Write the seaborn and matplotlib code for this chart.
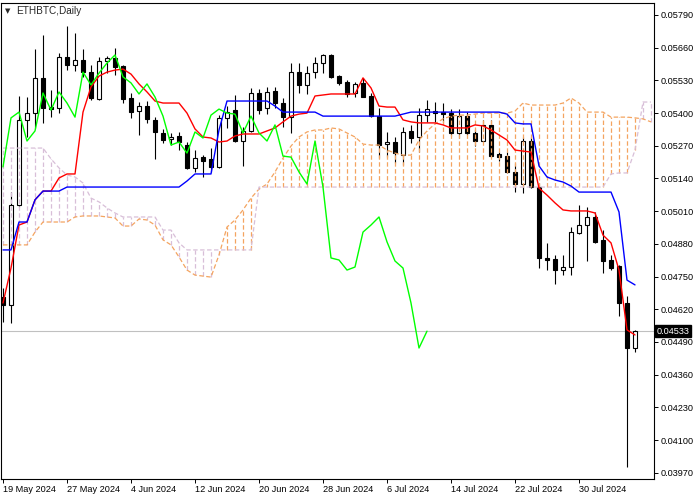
import numpy as np
import pandas as pd
import matplotlib
matplotlib.use("Agg")
import matplotlib.pyplot as plt
import matplotlib.transforms as mtransforms
import seaborn as sns

# ---- data (one value per daily bar) ----
symbol_title = "ETHBTC,Daily"
date_ticks = [0, 8, 16, 24, 32, 40, 48, 56, 64, 72]
date_labels = ["19 May 2024", "27 May 2024", "4 Jun 2024", "12 Jun 2024", "20 Jun 2024",
               "28 Jun 2024", "6 Jul 2024", "14 Jul 2024", "22 Jul 2024", "30 Jul 2024"]
price_ticks = [0.05790, 0.05660, 0.05530, 0.05400, 0.05270, 0.05140, 0.05010, 0.04880,
               0.04750, 0.04620, 0.04490, 0.04360, 0.04230, 0.04100, 0.03970]
last_price = 0.04533

opens = [0.04669, 0.04637, 0.05035, 0.05373, 0.05400, 0.05540, 0.05424, 0.05420, 0.05623, 0.05591,
         0.05611, 0.05563, 0.05456, 0.05607, 0.05619, 0.05587, 0.05460, 0.05408, 0.05428, 0.05373,
         0.05321, 0.05297, 0.05309, 0.05273, 0.05182, 0.05225, 0.05218, 0.05186, 0.05381, 0.05412,
         0.05289, 0.05329, 0.05480, 0.05420, 0.05488, 0.05440, 0.05384, 0.05563, 0.05512, 0.05563,
         0.05599, 0.05631, 0.05547, 0.05524, 0.05480, 0.05520, 0.05468, 0.05388, 0.05277, 0.05285,
         0.05233, 0.05329, 0.05305, 0.05392, 0.05408, 0.05404, 0.05400, 0.05321, 0.05388, 0.05321,
         0.05289, 0.05353, 0.05237, 0.05229, 0.05166, 0.05118, 0.05289, 0.05106, 0.04824, 0.04820,
         0.04776, 0.04788, 0.04923, 0.04955, 0.04987, 0.04896, 0.04816, 0.04792, 0.04645, 0.04466]
highs = [0.04705, 0.05086, 0.05468, 0.05464, 0.05655, 0.05710, 0.05492, 0.05639, 0.05746, 0.05718,
         0.05655, 0.05591, 0.05623, 0.05627, 0.05659, 0.05591, 0.05480, 0.05444, 0.05448, 0.05384,
         0.05337, 0.05321, 0.05325, 0.05285, 0.05253, 0.05233, 0.05261, 0.05392, 0.05428, 0.05472,
         0.05345, 0.05500, 0.05496, 0.05504, 0.05504, 0.05460, 0.05599, 0.05599, 0.05587, 0.05623,
         0.05635, 0.05635, 0.05551, 0.05532, 0.05524, 0.05540, 0.05480, 0.05420, 0.05325, 0.05305,
         0.05345, 0.05353, 0.05420, 0.05452, 0.05444, 0.05440, 0.05416, 0.05416, 0.05404, 0.05337,
         0.05373, 0.05373, 0.05245, 0.05245, 0.05202, 0.05305, 0.05305, 0.05122, 0.04884, 0.04836,
         0.04836, 0.04947, 0.05035, 0.05027, 0.05007, 0.04935, 0.04836, 0.04796, 0.04673, 0.04538]
lows = [0.04570, 0.04566, 0.05027, 0.05305, 0.05341, 0.05361, 0.05384, 0.05400, 0.05571, 0.05567,
        0.05544, 0.05452, 0.05452, 0.05559, 0.05551, 0.05440, 0.05381, 0.05313, 0.05361, 0.05218,
        0.05281, 0.05273, 0.05253, 0.05178, 0.05166, 0.05146, 0.05166, 0.05180, 0.05341, 0.05285,
        0.05190, 0.05325, 0.05396, 0.05396, 0.05420, 0.05345, 0.05321, 0.05480, 0.05476, 0.05540,
        0.05559, 0.05540, 0.05512, 0.05464, 0.05464, 0.05464, 0.05384, 0.05221, 0.05225, 0.05202,
        0.05194, 0.05281, 0.05245, 0.05365, 0.05365, 0.05361, 0.05309, 0.05301, 0.05313, 0.05269,
        0.05285, 0.05225, 0.05210, 0.05162, 0.05086, 0.05082, 0.05102, 0.04784, 0.04776, 0.04721,
        0.04756, 0.04756, 0.04919, 0.04812, 0.04884, 0.04764, 0.04776, 0.04593, 0.03993, 0.04450]
closes = [0.04637, 0.05035, 0.05373, 0.05400, 0.05540, 0.05420, 0.05418, 0.05623, 0.05591, 0.05611,
          0.05563, 0.05460, 0.05607, 0.05619, 0.05583, 0.05456, 0.05404, 0.05428, 0.05377, 0.05325,
          0.05293, 0.05305, 0.05285, 0.05182, 0.05221, 0.05210, 0.05186, 0.05381, 0.05404, 0.05289,
          0.05329, 0.05480, 0.05412, 0.05484, 0.05440, 0.05384, 0.05563, 0.05512, 0.05559, 0.05599,
          0.05631, 0.05544, 0.05520, 0.05476, 0.05516, 0.05464, 0.05388, 0.05273, 0.05285, 0.05241,
          0.05325, 0.05301, 0.05392, 0.05416, 0.05400, 0.05396, 0.05321, 0.05388, 0.05321, 0.05289,
          0.05353, 0.05229, 0.05225, 0.05166, 0.05118, 0.05289, 0.05106, 0.04824, 0.04816, 0.04776,
          0.04788, 0.04927, 0.04955, 0.04987, 0.04888, 0.04812, 0.04784, 0.04645, 0.04466, 0.04533]

tenkan = [0.04645, 0.04784, 0.04955, 0.04967, 0.05055, 0.05090, 0.05090, 0.05142, 0.05158, 0.05158,
          0.05404, 0.05504, 0.05547, 0.05563, 0.05571, 0.05575, 0.05555, 0.05516, 0.05484, 0.05448,
          0.05440, 0.05440, 0.05440, 0.05400, 0.05337, 0.05305, 0.05301, 0.05285, 0.05289, 0.05309,
          0.05317, 0.05317, 0.05317, 0.05329, 0.05341, 0.05365, 0.05388, 0.05396, 0.05400, 0.05468,
          0.05472, 0.05476, 0.05476, 0.05476, 0.05476, 0.05540, 0.05500, 0.05428, 0.05424, 0.05424,
          0.05373, 0.05365, 0.05361, 0.05361, 0.05361, 0.05353, 0.05341, 0.05341, 0.05341, 0.05353,
          0.05349, 0.05333, 0.05313, 0.05293, 0.05253, 0.05249, 0.05245, 0.05102, 0.05074, 0.05043,
          0.05015, 0.05011, 0.05011, 0.05011, 0.05003, 0.04915, 0.04884, 0.04776, 0.04538, 0.04518]
kijun = [0.04856, 0.04856, 0.04967, 0.04967, 0.05055, 0.05090, 0.05090, 0.05090, 0.05106, 0.05106,
         0.05106, 0.05106, 0.05106, 0.05106, 0.05106, 0.05106, 0.05106, 0.05106, 0.05106, 0.05106,
         0.05106, 0.05106, 0.05106, 0.05130, 0.05158, 0.05158, 0.05158, 0.05333, 0.05448, 0.05448,
         0.05448, 0.05448, 0.05448, 0.05448, 0.05428, 0.05404, 0.05404, 0.05404, 0.05404, 0.05404,
         0.05388, 0.05388, 0.05388, 0.05388, 0.05388, 0.05388, 0.05388, 0.05388, 0.05388, 0.05388,
         0.05396, 0.05404, 0.05404, 0.05404, 0.05404, 0.05404, 0.05404, 0.05404, 0.05404, 0.05404,
         0.05404, 0.05404, 0.05404, 0.05396, 0.05361, 0.05357, 0.05357, 0.05190, 0.05146, 0.05134,
         0.05126, 0.05110, 0.05086, 0.05086, 0.05086, 0.05086, 0.05086, 0.05007, 0.04736, 0.04717]
# the cloud runs two bars past the last candle, up to the right edge
senkou_a = [0.04876, 0.04876, 0.04876, 0.04876, 0.04927, 0.04967, 0.04967, 0.04967, 0.04967, 0.04987,
            0.04991, 0.04991, 0.04991, 0.04987, 0.04983, 0.04951, 0.04951, 0.04979, 0.04975, 0.04955,
            0.04896, 0.04876, 0.04828, 0.04776, 0.04756, 0.04752, 0.04748, 0.04836, 0.04947, 0.04975,
            0.05015, 0.05062, 0.05098, 0.05118, 0.05166, 0.05221, 0.05269, 0.05305, 0.05325, 0.05333,
            0.05333, 0.05341, 0.05337, 0.05321, 0.05305, 0.05277, 0.05273, 0.05273, 0.05253, 0.05241,
            0.05233, 0.05233, 0.05293, 0.05329, 0.05357, 0.05377, 0.05388, 0.05392, 0.05392, 0.05396,
            0.05400, 0.05400, 0.05400, 0.05400, 0.05408, 0.05440, 0.05432, 0.05432, 0.05432, 0.05432,
            0.05440, 0.05460, 0.05440, 0.05404, 0.05404, 0.05404, 0.05384, 0.05384, 0.05384, 0.05381,
            0.05377, 0.05365]
senkou_b = [0.05261, 0.05261, 0.05261, 0.05261, 0.05261, 0.05261, 0.05218, 0.05182, 0.05154, 0.05146,
            0.05122, 0.05062, 0.05047, 0.05023, 0.05003, 0.04987, 0.04987, 0.04987, 0.04987, 0.04987,
            0.04935, 0.04935, 0.04884, 0.04856, 0.04856, 0.04856, 0.04856, 0.04856, 0.04856, 0.04856,
            0.04856, 0.04856, 0.05106, 0.05106, 0.05106, 0.05106, 0.05106, 0.05106, 0.05106, 0.05106,
            0.05106, 0.05106, 0.05106, 0.05106, 0.05106, 0.05106, 0.05106, 0.05106, 0.05106, 0.05106,
            0.05106, 0.05106, 0.05106, 0.05106, 0.05106, 0.05106, 0.05106, 0.05106, 0.05106, 0.05106,
            0.05106, 0.05106, 0.05106, 0.05106, 0.05106, 0.05106, 0.05106, 0.05106, 0.05106, 0.05106,
            0.05106, 0.05106, 0.05106, 0.05106, 0.05106, 0.05106, 0.05158, 0.05162, 0.05162, 0.05253,
            0.05444, 0.05444]
chikou_shift = 26

# ---- frames ----
bars = pd.DataFrame({"bar": np.arange(len(opens)), "open": opens, "high": highs,
                     "low": lows, "close": closes, "tenkan": tenkan, "kijun": kijun})
cloud = pd.DataFrame({"bar": np.arange(len(senkou_a)), "a": senkou_a, "b": senkou_b})
chikou = pd.DataFrame({"bar": bars["bar"].iloc[:-chikou_shift].values,
                       "value": bars["close"].iloc[chikou_shift:].values})

sns.set_style("white")
plt.rcParams["font.family"] = ["Liberation Sans", "DejaVu Sans"]
plt.rcParams["lines.scale_dashes"] = False

SANDY = "#F4A460"
THISTLE = "#D8BFD8"
DASH = (0, (3.2, 1.8))

fig = plt.figure(figsize=(7, 5), dpi=100)
ax = fig.add_axes([1 / 700, 21 / 500, 653 / 700, 476 / 500])

# current price line
ax.axhline(last_price, color="#C0C0C0", lw=0.8, zorder=1)

# candles
ax.vlines(bars["bar"], bars["low"], bars["high"], color="black", lw=0.8, zorder=2)
up = bars["close"] >= bars["open"]
ax.bar(bars["bar"], (bars["close"] - bars["open"]).abs(),
       bottom=bars[["open", "close"]].min(axis=1), width=0.52,
       color=np.where(up, "white", "black"), edgecolor="black", lw=0.8, zorder=2)

# kumo hatching: one dashed stroke per bar between the two spans
hatch_colors = np.where(cloud["a"] >= cloud["b"], SANDY, THISTLE)
ax.vlines(cloud["bar"], cloud[["a", "b"]].min(axis=1), cloud[["a", "b"]].max(axis=1),
          colors=hatch_colors, linestyles=[DASH], lw=0.9, zorder=3)
sns.lineplot(data=cloud, x="bar", y="a", color=SANDY, lw=0.9, linestyle=DASH,
             estimator=None, sort=False, ax=ax, zorder=3)
sns.lineplot(data=cloud, x="bar", y="b", color=THISTLE, lw=0.9, linestyle=DASH,
             estimator=None, sort=False, ax=ax, zorder=3)

# tenkan, kijun, chikou
sns.lineplot(data=bars, x="bar", y="tenkan", color="#FF0000", lw=1.0,
             estimator=None, sort=False, ax=ax, zorder=4)
sns.lineplot(data=bars, x="bar", y="kijun", color="#0000FF", lw=1.0,
             estimator=None, sort=False, ax=ax, zorder=4)
sns.lineplot(data=chikou, x="bar", y="value", color="#00FF00", lw=1.0,
             estimator=None, sort=False, ax=ax, zorder=4)

# axes look (MetaTrader style)
ax.set_xlim(-0.25, 81.375)
ax.set_ylim(0.039453, 0.058377)
ax.set_xlabel("")
ax.set_ylabel("")
ax.yaxis.tick_right()
ax.set_yticks(price_ticks)
ax.set_yticklabels([f"{p:.5f}" for p in price_ticks])
ax.set_xticks(date_ticks)
ax.set_xticklabels(date_labels, ha="left")
ax.tick_params(axis="both", direction="out", length=3, width=0.7, color="black",
               labelsize=6.6, pad=1.5, labelcolor="black")
ax.tick_params(axis="x", bottom=True, top=False, pad=1.0)
ax.tick_params(axis="y", right=True, left=False, labelright=True, labelleft=False)
for side in ["left", "right", "top", "bottom"]:
    ax.spines[side].set_visible(True)
    ax.spines[side].set_color("black")
    ax.spines[side].set_linewidth(0.8)

# last price tag on the axis
tag_tf = mtransforms.blended_transform_factory(ax.transAxes, ax.transData)
ax.text(1.004, last_price, f"{last_price:.5f}", transform=tag_tf, color="white",
        fontsize=6.6, va="center", ha="left", zorder=10,
        bbox=dict(facecolor="black", edgecolor="black", pad=1.0))

# header
fig.text(5 / 700, 1 - 11 / 500, "\u25BC", fontsize=5, va="center", ha="left",
         family=["DejaVu Sans"])
fig.text(16 / 700, 1 - 11 / 500, symbol_title, fontsize=7.2, va="center", ha="left")

fig.savefig("out.png", dpi=100)
